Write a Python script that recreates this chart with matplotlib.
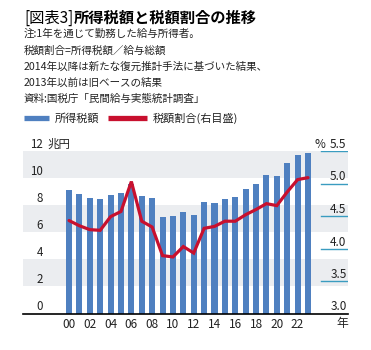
import matplotlib
matplotlib.use("Agg")
import matplotlib.pyplot as plt
from matplotlib.lines import Line2D

plt.rcParams['font.family'] = ['Noto Sans CJK JP', 'DejaVu Sans']

years = list(range(2000, 2024))
tax_trillion = [9.13, 8.86, 8.52, 8.42, 8.76, 8.93, 9.60, 8.71, 8.52, 7.09, 7.22, 7.53,
                7.27, 8.25, 8.15, 8.47, 8.57, 9.20, 9.60, 10.26, 10.19, 11.12, 11.73, 11.83]
tax_ratio = [4.43, 4.35, 4.29, 4.28, 4.49, 4.57, 5.03, 4.42, 4.33, 3.89, 3.87, 4.03,
             3.93, 4.31, 4.34, 4.42, 4.42, 4.52, 4.60, 4.69, 4.66, 4.87, 5.06, 5.09]
xtick_years = list(range(2000, 2023, 2))
xtick_labels = [f"{y % 100:02d}" for y in xtick_years]
left_ticks = [0, 2, 4, 6, 8, 10, 12]
right_ticks = [3.0, 3.5, 4.0, 4.5, 5.0, 5.5]

BLUE = '#4f80c0'
RED = '#c8102e'
GRAY = '#ebedf0'
TEAL = '#3a9cc0'
TXT = '#222222'

W, H = 371, 350
fig = plt.figure(figsize=(W / 100, H / 100), dpi=100)

def fx(px):
    return px / W

def fy(py):
    return 1 - py / H

ax_l, ax_r, ax_t, ax_b = 23, 348, 151, 313.5
ax = fig.add_axes([fx(ax_l), fy(ax_b), fx(ax_r - ax_l), (ax_b - ax_t) / H])
ax.set_xlim(1995.57, 2026.85)
ax.set_ylim(0, 12)

for lo, hi in [(10, 12), (6, 8), (2, 4)]:
    ax.axhspan(lo, hi, color=GRAY, zorder=0, lw=0)

ax.bar(years, tax_trillion, width=0.58, color=BLUE, zorder=2)

for s in ['top', 'left', 'right']:
    ax.spines[s].set_visible(False)
ax.spines['bottom'].set_color('black')
ax.spines['bottom'].set_linewidth(1.2)
ax.spines['bottom'].set_zorder(5)

ax.set_yticks(left_ticks)
ax.set_yticklabels([str(t) for t in left_ticks])
ax.tick_params(axis='y', length=0, pad=-14.4, labelsize=8.3, labelcolor=TXT)
for lab in ax.get_yticklabels():
    lab.set_verticalalignment('bottom')

ax.set_xticks(xtick_years)
ax.set_xticklabels(xtick_labels)
ax.tick_params(axis='x', length=0, pad=3.5, labelsize=8.5, labelcolor=TXT)

ax.text((47 - ax_l) / (ax_r - ax_l), 12, '兆円', transform=ax.get_yaxis_transform(),
        ha='left', va='bottom', fontsize=8.3, color=TXT)
ax.annotate('年', xy=((342 - ax_l) / (ax_r - ax_l), 0), xycoords='axes fraction',
            xytext=(0, -10), textcoords='offset pixels', ha='center', va='center',
            fontsize=8.5, color=TXT)

ax2 = ax.twinx()
ax2.set_ylim(3.0, 5.5)
for s in ['top', 'left', 'right', 'bottom']:
    ax2.spines[s].set_visible(False)
for t in right_ticks[1:]:
    ax2.axhline(t, xmin=(321 - ax_l) / (ax_r - ax_l), xmax=1.0, color=TEAL, lw=1.0, zorder=1)
ax2.plot(years, tax_ratio, color=RED, lw=2.3, zorder=4, solid_capstyle='round',
         solid_joinstyle='miter')
ax2.set_yticks(right_ticks)
ax2.set_yticklabels([f"{t:.1f}" for t in right_ticks])
ax2.tick_params(axis='y', length=0, pad=-1, labelsize=8.5, labelcolor=TXT)
for lab in ax2.get_yticklabels():
    lab.set_horizontalalignment('right')
    lab.set_verticalalignment('bottom')
ax2.text((315 - ax_l) / (ax_r - ax_l), 5.5, '%', transform=ax2.get_yaxis_transform(),
         ha='left', va='bottom', fontsize=8.5, color=TXT)

# Title
t1 = fig.text(fx(24), fy(18), '[図表3]', ha='left', va='center', fontsize=11, color='black')
fig.canvas.draw()
bb = t1.get_window_extent(renderer=fig.canvas.get_renderer())
fig.text(bb.x1 / W + fx(1), fy(18), '所得税額と税額割合の推移', ha='left', va='center',
         fontsize=11, fontweight='bold', color='black')

notes = ['注:1年を通じて勤務した給与所得者。',
         '税額割合=所得税額／給与総額',
         '2014年以降は新たな復元推計手法に基づいた結果、',
         '2013年以前は旧ベースの結果',
         '資料:国税庁「民間給与実態統計調査」']
note_y = [34, 51, 67, 83, 99]
for s, y in zip(notes, note_y):
    fig.text(fx(24), fy(y), s, ha='left', va='center', fontsize=7.6, color=TXT)

# Legend
ly = fy(118)
fig.add_artist(Line2D([fx(24), fx(49)], [ly, ly], color=BLUE, lw=3.8, solid_capstyle='butt'))
fig.text(fx(55), ly, '所得税額', ha='left', va='center', fontsize=8.0, color=TXT)
fig.add_artist(Line2D([fx(108), fx(147)], [ly, ly], color=RED, lw=3.8, solid_capstyle='butt'))
fig.text(fx(153), ly, '税額割合(右目盛)', ha='left', va='center', fontsize=8.0, color=TXT)

fig.savefig('out.png', dpi=100)
